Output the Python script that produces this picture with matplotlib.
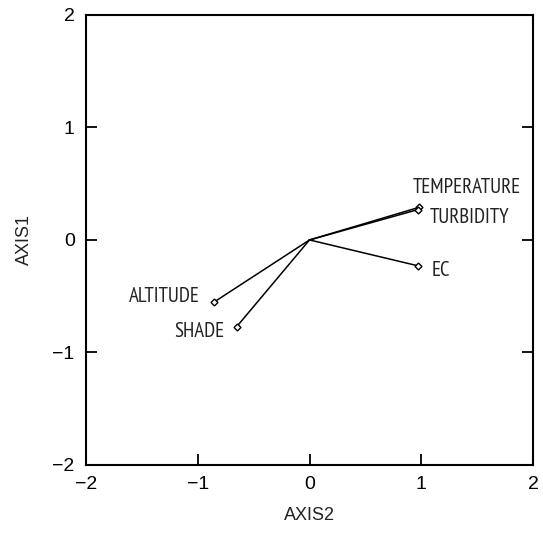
import matplotlib
matplotlib.use("Agg")
import matplotlib.pyplot as plt

variables = ["TEMPERATURE", "TURBIDITY", "EC", "ALTITUDE", "SHADE"]
axis2 = [0.98, 0.97, 0.97, -0.85, -0.65]
axis1 = [0.29, 0.27, -0.23, -0.55, -0.77]
label_x = [1.41, 1.43, 1.17, -0.98, -0.76]
label_y = [0.47, 0.20, -0.27, -0.50, -0.81]
label_ha = ["center", "center", "center", "right", "right"]
ticks = [-2, -1, 0, 1, 2]

plt.rcParams['font.family'] = ['Liberation Sans', 'DejaVu Sans']
narrow = ['Liberation Sans Narrow', 'PT Sans Narrow', 'Liberation Sans']

fig = plt.figure(figsize=(5.43, 5.35), dpi=100)
ax = fig.add_axes([0.158, 0.131, 0.824, 0.841])

for x, y in zip(axis2, axis1):
    ax.plot([0, x], [0, y], color="black", lw=1.1)
ax.plot(axis2, axis1, linestyle="none", marker="D", markersize=3.5,
        markerfacecolor="white", markeredgecolor="black", markeredgewidth=1)

for name, lx, ly, ha in zip(variables, label_x, label_y, label_ha):
    ax.text(lx, ly, name, ha=ha, va="center", fontsize=15,
            family=narrow, color="#222222")

ax.set_xlim(-2, 2)
ax.set_ylim(-2, 2)
ax.set_xticks(ticks)
ax.set_yticks(ticks)
ax.set_xticklabels(["\u22122", "\u22121", "0", "1", "2"])
ax.set_yticklabels(["\u22122", "\u22121", "0", "1", "2"])
ax.tick_params(direction="in", length=8, width=1.3, labelsize=14,
               top=False, right=True, pad=8)
for s in ax.spines.values():
    s.set_linewidth(1.5)

ax.set_xlabel("AXIS2", fontsize=13, labelpad=10, color="#222222")
ax.set_ylabel("AXIS1", fontsize=13, labelpad=14, color="#222222")

fig.savefig("out.png", dpi=100)
